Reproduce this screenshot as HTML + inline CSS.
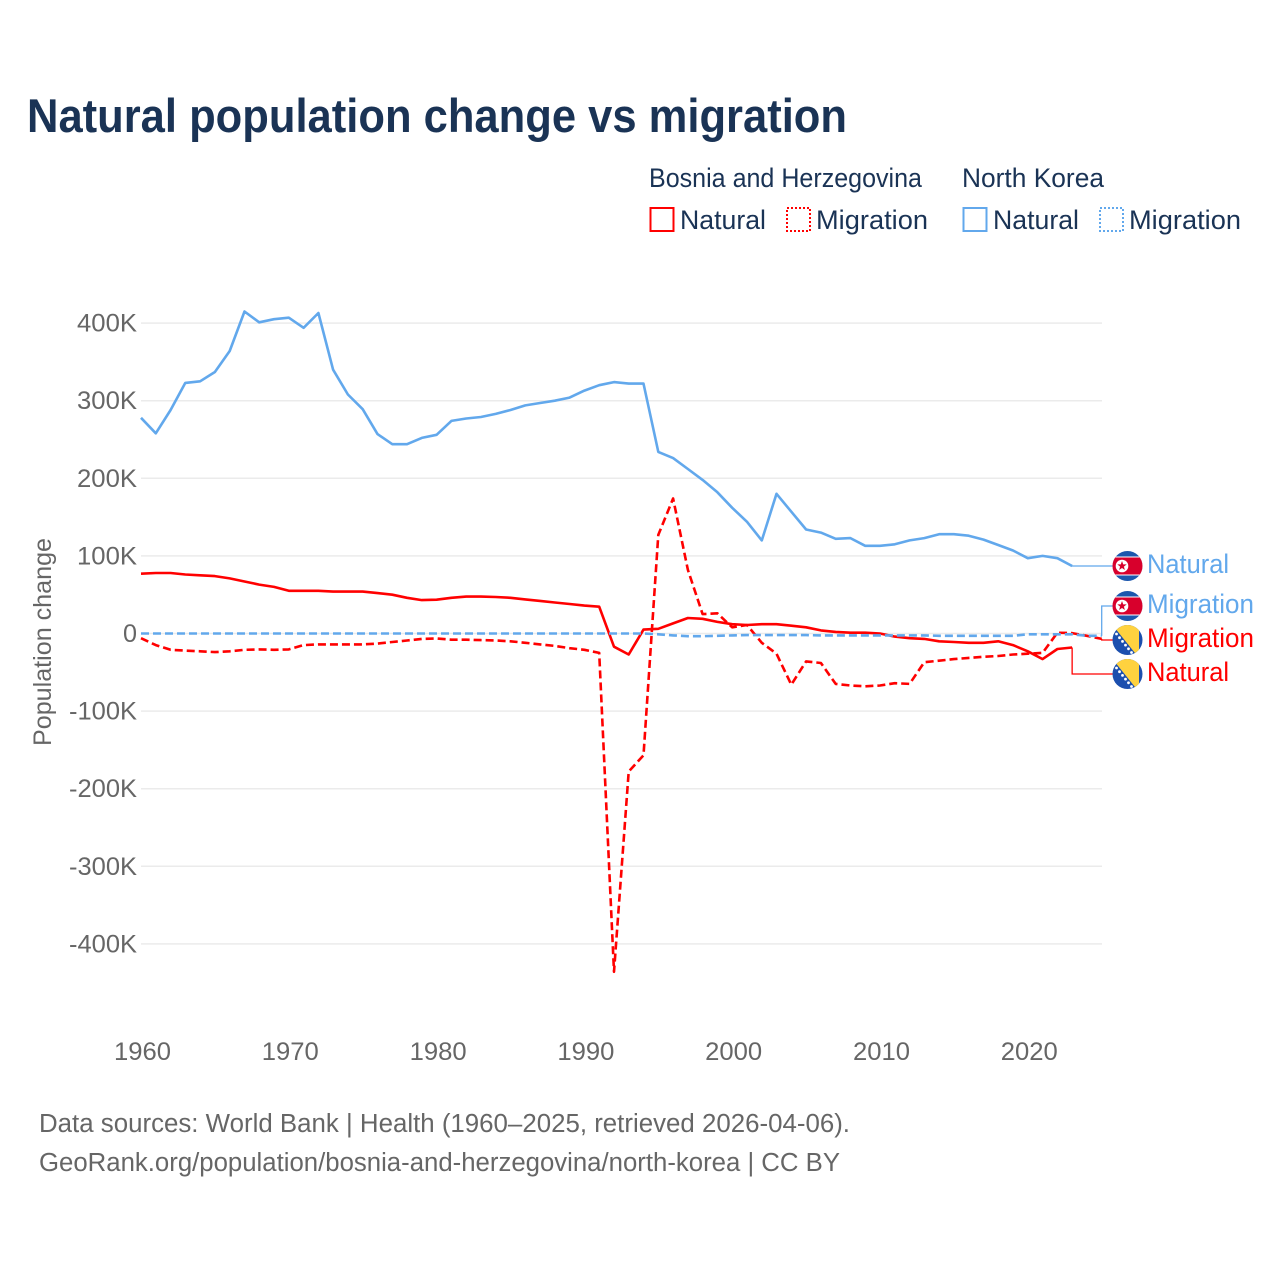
<!DOCTYPE html>
<html lang="en">
<head>
<meta charset="utf-8">
<title>Natural population change vs migration</title>
<style>
html,body{margin:0;padding:0;background:#fff;}
svg{display:block;}
text{font-family:"Liberation Sans",sans-serif;}
</style>
</head>
<body>
<svg id="chart" width="1280" height="1280" viewBox="0 0 1280 1280" xmlns="http://www.w3.org/2000/svg">
  <rect width="1280" height="1280" fill="#fff"/>
  <text x="27" y="132" font-size="47" font-weight="700" fill="#1a3355" textLength="820" lengthAdjust="spacingAndGlyphs">Natural population change vs migration</text>

  <g font-size="26.5" fill="#1a3355">
    <text x="649" y="187" textLength="273" lengthAdjust="spacingAndGlyphs">Bosnia and Herzegovina</text>
    <text x="962" y="187" textLength="142" lengthAdjust="spacingAndGlyphs">North Korea</text>
    <g>
      <rect x="650.5" y="208" width="23" height="23" fill="none" stroke="#ff0000" stroke-width="2"/>
      <text x="680" y="229" textLength="86" lengthAdjust="spacingAndGlyphs">Natural</text>
    </g>
    <g>
      <rect x="787" y="208" width="23" height="23" fill="none" stroke="#ff0000" stroke-width="2" stroke-dasharray="2,2"/>
      <text x="816" y="229" textLength="112" lengthAdjust="spacingAndGlyphs">Migration</text>
    </g>
    <g>
      <rect x="963.5" y="208" width="23" height="23" fill="none" stroke="#62a8ec" stroke-width="2"/>
      <text x="993" y="229" textLength="86" lengthAdjust="spacingAndGlyphs">Natural</text>
    </g>
    <g>
      <rect x="1100" y="208" width="23" height="23" fill="none" stroke="#62a8ec" stroke-width="2" stroke-dasharray="2,2"/>
      <text x="1129" y="229" textLength="112" lengthAdjust="spacingAndGlyphs">Migration</text>
    </g>
  </g>

  <g id="grid"></g>
  <g id="yticks"></g>
  <g id="xticks"></g>
  <text transform="translate(51,642) rotate(-90)" text-anchor="middle" font-size="25" fill="#666" textLength="208" lengthAdjust="spacingAndGlyphs">Population change</text>

  <g id="series"></g>

  <g id="flags">
    <defs>
      <clipPath id="flag-clip"><circle cx="0" cy="0" r="15"/></clipPath>
      <g id="flag-nk" clip-path="url(#flag-clip)">
        <rect x="-15" y="-15" width="30" height="30" fill="#1c57ad"/>
        <rect x="-15" y="-9.5" width="30" height="19" fill="#fff"/>
        <rect x="-15" y="-8.5" width="30" height="17" fill="#d8002c"/>
        <circle cx="-5.5" cy="0" r="6.3" fill="#fff"/>
        <polygon points="-5.5,-5 -4.3,-1.6 -0.8,-1.6 -3.6,0.6 -2.6,4 -5.5,2 -8.4,4 -7.4,0.6 -10.2,-1.6 -6.7,-1.6" fill="#d8002c"/>
      </g>
      <g id="flag-ba" clip-path="url(#flag-clip)">
        <rect x="-15" y="-15" width="30" height="30" fill="#1c4fae"/>
        <polygon points="-15,-15 11.5,-15 11.5,18" fill="#ffd23f"/>
        <g fill="#fff">
          <circle cx="-11" cy="-6" r="1.4"/><circle cx="-8" cy="-2.3" r="1.4"/><circle cx="-5" cy="1.4" r="1.4"/><circle cx="-2" cy="5.1" r="1.4"/><circle cx="1" cy="8.8" r="1.4"/><circle cx="4" cy="12.5" r="1.4"/>
        </g>
      </g>
    </defs>
    <use href="#flag-nk" x="1127.5" y="566"/>
    <use href="#flag-nk" x="1127.5" y="606"/>
    <use href="#flag-ba" x="1127.5" y="640"/>
    <use href="#flag-ba" x="1127.5" y="674"/>
  </g>

  <g font-size="26.5">
    <text x="1147" y="573" fill="#62a8ec" textLength="82" lengthAdjust="spacingAndGlyphs">Natural</text>
    <text x="1147" y="613" fill="#62a8ec" textLength="107" lengthAdjust="spacingAndGlyphs">Migration</text>
    <text x="1147" y="647" fill="#ff0000" textLength="107" lengthAdjust="spacingAndGlyphs">Migration</text>
    <text x="1147" y="681" fill="#ff0000" textLength="82" lengthAdjust="spacingAndGlyphs">Natural</text>
  </g>

  <g font-size="25.5" fill="#666">
    <text x="39" y="1132" textLength="811" lengthAdjust="spacingAndGlyphs">Data sources: World Bank | Health (1960–2025, retrieved 2026-04-06).</text>
    <text x="39" y="1171" textLength="801" lengthAdjust="spacingAndGlyphs">GeoRank.org/population/bosnia-and-herzegovina/north-korea | CC BY</text>
  </g>
</svg>

<script>
const startYear = 1960;
const yTickValues = [400, 300, 200, 100, 0, -100, -200, -300, -400];
const yTickLabels = ["400K", "300K", "200K", "100K", "0", "-100K", "-200K", "-300K", "-400K"];
const xTickYears = [1960, 1970, 1980, 1990, 2000, 2010, 2020];
const xTickLabels = ["1960", "1970", "1980", "1990", "2000", "2010", "2020"];

// Thousands of people per year, starting at 1960
const northKoreaNatural = [278,258,288,323,325,337,364,415,401,405,407,394,413,340,308,289,257,244,244,252,256,274,277,279,283,288,294,297,300,304,313,320,324,322,322,234,226,212,198,182,162,144,120,180,157,134,130,122,123,113,113,115,120,123,128,128,126,121,114,107,97,100,97,87];
const northKoreaMigration = [0,0,0,0,0,0,0,0,0,0,0,0,0,0,0,0,0,0,0,0,0,0,0,0,0,0,0,0,0,0,0,0,0,0,0,-1,-2.5,-3.5,-3.5,-3,-2.5,-2,-2,-2,-2,-2,-2.5,-2.5,-2.5,-2.5,-2.5,-2.5,-2.5,-2.5,-3,-3,-3,-3,-3,-3,-1,-1,-1,-1,-3,-3];
const bosniaNatural = [77,78,78,76,75,74,71,67,63,60,55,55,55,54,54,54,52,50,46,43,43.5,46,47.5,47.5,47,46,44,42,40,38,36,34.5,-17,-27,5,6,13,20,19,15,12,11,12,12,10,8,4,2,1,1,0,-4,-6,-7,-10,-11,-12,-12,-10,-15,-23,-33,-20,-18];
const bosniaMigration = [-6,-15,-21,-22,-23,-24,-23,-21,-20.5,-21,-20.5,-15,-14,-14,-14,-14,-13,-11,-9,-7,-6.5,-8,-8,-8.5,-9,-10,-12,-14,-16,-19,-21,-25,-436,-178,-157,127,174,82,25,26,8,11,-12,-26,-66,-36,-38,-65,-67,-68,-67,-64,-65,-37,-35,-33,-31.5,-30,-29,-27,-26,-25,1,0.5,-3,-7];

const svgNS = "http://www.w3.org/2000/svg";
const xScale = year => 141 + (year - startYear) * 14.78;
const yScale = value => 633.5 - value * 0.776;
const labelX = 1113;

function makeEl(tag, parent) {
  const el = document.createElementNS(svgNS, tag);
  parent.appendChild(el);
  return el;
}

const grid = document.getElementById("grid");
const yticks = document.getElementById("yticks");
const xticks = document.getElementById("xticks");
const series = document.getElementById("series");

yTickValues.forEach((v, i) => {
  const line = makeEl("line", grid);
  
  
  line.setAttribute("x1", 141);
  line.setAttribute("x2", 1102);
  line.setAttribute("y1", yScale(v));
  line.setAttribute("y2", yScale(v));
  line.setAttribute("stroke", "#ebebeb");
  line.setAttribute("stroke-width", 1.5);

  const label = makeEl("text", yticks);
  
  
  label.setAttribute("x", 137);
  label.setAttribute("y", yScale(v) + 8.5);
  label.setAttribute("text-anchor", "end");
  label.setAttribute("font-size", "25");
  label.setAttribute("fill", "#666");
  label.setAttribute("textLength", yTickLabels[i].length === 1 ? 14 : (yTickLabels[i].length === 4 ? 60 : 68));
  label.setAttribute("lengthAdjust", "spacingAndGlyphs");
  label.textContent = yTickLabels[i];
});

xTickYears.forEach((year, i) => {
  const label = makeEl("text", xticks);
  
  
  label.setAttribute("x", xScale(year) + 1.5);
  label.setAttribute("y", 1060);
  label.setAttribute("text-anchor", "middle");
  label.setAttribute("font-size", "25");
  label.setAttribute("fill", "#666");
  label.setAttribute("textLength", 57);
  label.setAttribute("lengthAdjust", "spacingAndGlyphs");
  label.textContent = xTickLabels[i];
});

function linePoints(values) {
  return values.map((v, i) => xScale(startYear + i).toFixed(1) + "," + yScale(v).toFixed(1)).join(" ");
}

function drawConnector(values, labelY, color) {
  const lastX = xScale(startYear + values.length - 1);
  const lastY = yScale(values[values.length - 1]);
  const c = makeEl("polyline", series);
  
  
  c.setAttribute("points", lastX + "," + lastY + " " + lastX + "," + labelY + " " + labelX + "," + labelY);
  c.setAttribute("fill", "none");
  c.setAttribute("stroke", color);
  c.setAttribute("stroke-width", 1.3);
}

function drawLine(values, color, dash, width) {
  const p = makeEl("polyline", series);
  
  
  p.setAttribute("points", linePoints(values));
  p.setAttribute("fill", "none");
  p.setAttribute("stroke", color);
  p.setAttribute("stroke-width", width);
  p.setAttribute("stroke-linejoin", "round");
  if (dash) p.setAttribute("stroke-dasharray", dash);
}

drawConnector(northKoreaNatural, 566, "#62a8ec");
drawConnector(northKoreaMigration, 606, "#62a8ec");
drawConnector(bosniaMigration, 640, "#ff0000");
drawConnector(bosniaNatural, 674, "#ff0000");
drawLine(northKoreaNatural, "#62a8ec", null, 2.6);
drawLine(bosniaNatural, "#ff0000", null, 2.6);
drawLine(bosniaMigration, "#ff0000", "8,4", 2.6);
drawLine(northKoreaMigration, "#62a8ec", "8,4", 2.6);
</script>
</body>
</html>
